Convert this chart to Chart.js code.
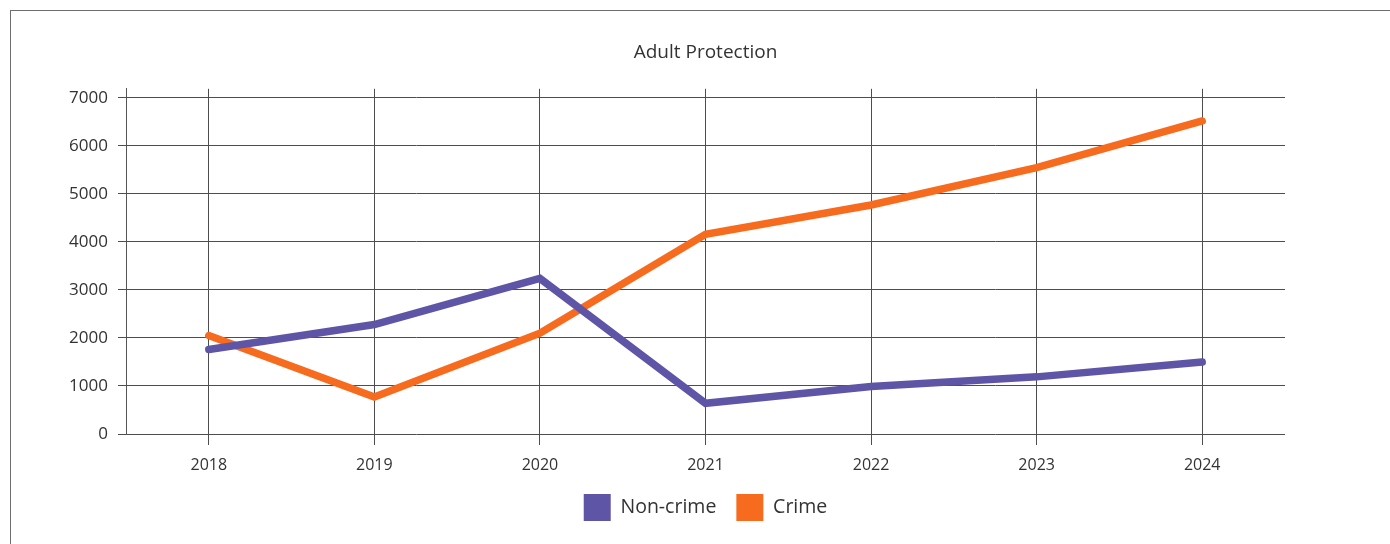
<!DOCTYPE html>
<html>
<head>
<meta charset="utf-8">
<script src="https://cdn.jsdelivr.net/npm/chart.js@4.4.0/dist/chart.umd.min.js"></script>
<style>
html,body{margin:0;padding:0;background:#fff;overflow:hidden;width:1390px;height:544px;}
#frame{position:absolute;left:10px;top:10px;width:1400px;height:560px;border:1px solid #6e6e6e;}
#wrap{position:absolute;left:0;top:0;width:1390px;height:544px;}
</style>
</head>
<body>
<div id="frame"></div>
<div id="wrap"><canvas id="c" width="1390" height="544"></canvas></div>
<script>
const categories = ['2018','2019','2020','2021','2022','2023','2024'];
const nonCrime = [1760, 2280, 3240, 640, 990, 1190, 1500];
const crime = [2050, 770, 2100, 4160, 4770, 5550, 6520];
const yTicks = [0,1000,2000,3000,4000,5000,6000,7000];
const seriesNames = ['Non-crime','Crime'];
const chartTitle = 'Adult Protection';

const FONT = "'Open Sans', sans-serif";
const TEXT = '#333333';
const GRID = '#4d4d4d';

new Chart(document.getElementById('c'), {
  type: 'line',
  data: {
    labels: categories,
    datasets: [
      {label: seriesNames[0], data: nonCrime, borderColor: '#5e55a6', backgroundColor: '#5e55a6',
       borderWidth: 7.5, pointRadius: 0, pointHoverRadius: 0, borderCapStyle: 'round', tension: 0, fill: false},
      {label: seriesNames[1], data: crime, borderColor: '#f76b1f', backgroundColor: '#f76b1f',
       borderWidth: 7.5, pointRadius: 0, pointHoverRadius: 0, borderCapStyle: 'round', tension: 0, fill: false}
    ]
  },
  options: {
    responsive: false,
    animation: false,
    events: [],
    layout: {padding: {left: 0, right: 105, top: 0, bottom: 13}},
    plugins: {
      title: {display: true, fullSize: false, text: chartTitle, color: TEXT,
        font: {family: FONT, size: 19, weight: 'normal'}, padding: {top: 41, bottom: 25}},
      legend: {position: 'bottom', fullSize: false,
        labels: {boxWidth: 27, boxHeight: 27, padding: 20, color: TEXT,
          font: {family: FONT, size: 19.5},
          generateLabels: chart => Chart.defaults.plugins.legend.labels.generateLabels(chart)
            .map(l => Object.assign(l, {lineWidth: 0, strokeStyle: 'rgba(0,0,0,0)'}))}},
      tooltip: {enabled: false}
    },
    scales: {
      x: {
        offset: true,
        grid: {offset: false, color: GRID, lineWidth: 1, tickLength: 11, drawTicks: true},
        border: {display: false},
        ticks: {color: TEXT, font: {family: FONT, size: 16}, padding: 11, maxRotation: 0},
        afterFit: s => { s.height = 40; }
      },
      y: {
        min: 0, max: 7190,
        afterBuildTicks: s => { s.ticks = yTicks.map(v => ({value: v})); },
        grid: {color: GRID, lineWidth: 1, tickLength: 8},
        border: {display: true, color: '#555555', width: 1},
        ticks: {color: TEXT, font: {family: FONT, size: 17}, padding: 10, includeBounds: false,
          callback: v => String(v)},
        afterFit: s => { s.width = 126; }
      }
    }
  }
});
</script>
</body>
</html>
